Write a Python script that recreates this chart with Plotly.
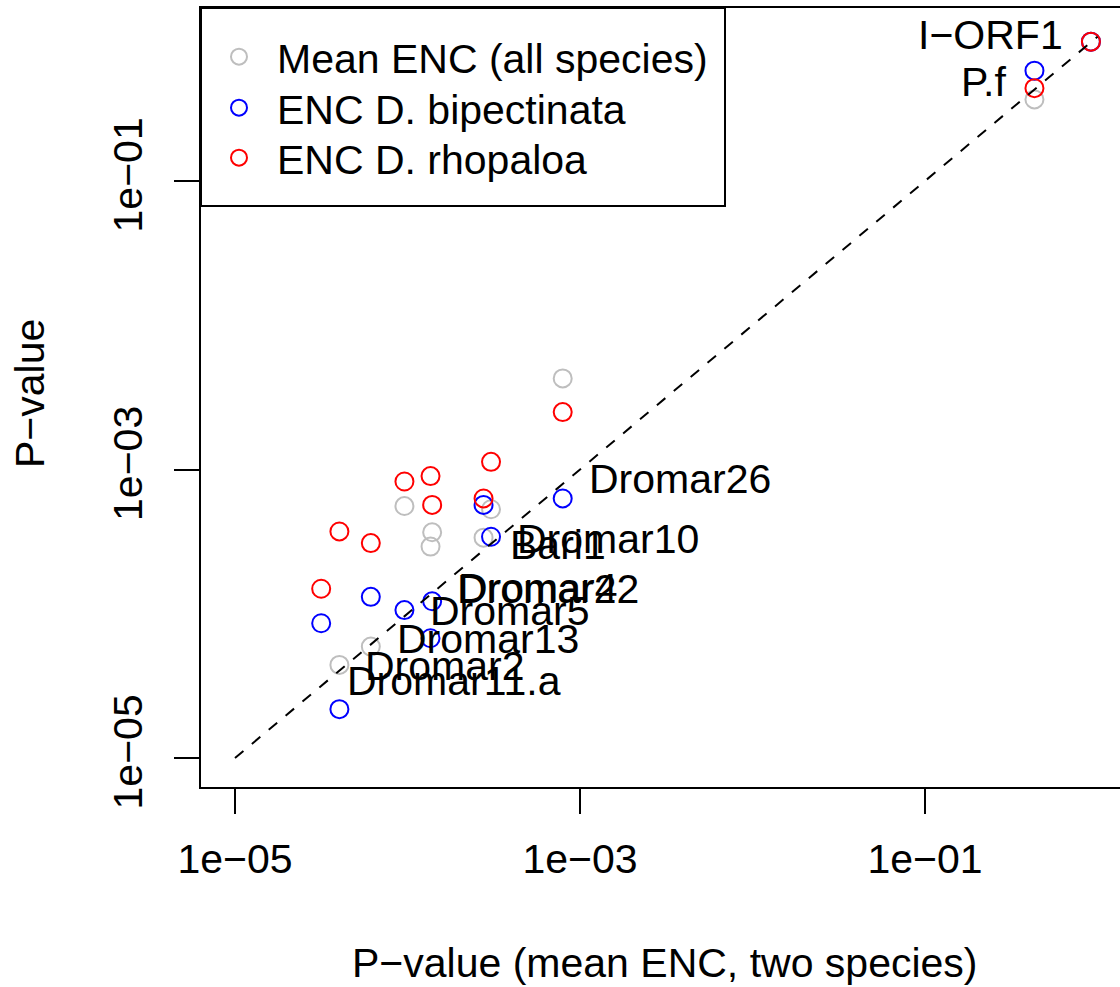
import numpy as np
import plotly.graph_objects as go

# ---- data ----
genes = ["Dromar26", "Dromar10", "Bari1", "Dromar4", "Dromar22", "Dromar5",
         "Dromar13", "Dromar2", "Dromar11.a", "P.f", "I\u2212ORF1"]
label_side = ["right"] * 9 + ["left", "left"]
p_two_species = [7.94e-4, 3.05e-4, 2.76e-4, 1.39e-4, 1.36e-4, 9.6e-5,
                 6.13e-5, 4.03e-5, 3.16e-5, 0.431, 0.916]
p_all_species = [4.28e-3, 5.3e-4, 3.37e-4, 3.67e-4, 2.92e-4, 5.58e-4,
                 5.92e-5, 4.42e-5, None, 0.368, 0.925]
p_bipectinata = [6.3e-4, 3.42e-4, 5.68e-4, 1.22e-4, 6.76e-5, 1.06e-4,
                 1.31e-4, 2.18e-5, 8.59e-5, 0.582, 0.925]
p_rhopaloa = [2.5e-3, 1.13e-3, 6.3e-4, 5.68e-4, 9.0e-4, 8.26e-4,
              3.09e-4, 3.72e-4, 1.49e-4, 0.44, 0.925]
diag = [1e-05, 1.0]
tick_vals = [1e-05, 1e-03, 1e-01]
tick_text = ["1e\u221205", "1e\u221203", "1e\u221201"]
series_names = ["Mean ENC (all species)", "ENC D. bipectinata", "ENC D. rhopaloa"]
series_colors = ["#BEBEBE", "#0000FF", "#FF0000"]

FONT = "Liberation Sans, Arial, Helvetica, sans-serif"
FS = 41

fig = go.Figure()
legend_ids = ["legend", "legend2", "legend3"]
for name, col, yv, lg in zip(series_names, series_colors,
                             [p_all_species, p_bipectinata, p_rhopaloa], legend_ids):
    fig.add_trace(go.Scatter(
        x=p_two_species, y=yv, mode="markers", name=name, legend=lg,
        marker=dict(symbol="circle-open", size=18, color=col,
                    line=dict(width=2, color=col)),
    ))

fig.add_trace(go.Scatter(x=diag, y=diag, mode="lines", showlegend=False,
                         line=dict(color="black", width=2, dash="11px,11px")))

# gene labels, placed next to the diagonal at each gene's x value
for g, side, xv in zip(genes, label_side, p_two_species):
    lx = np.log10(xv)
    fig.add_annotation(x=lx, y=lx, xref="x", yref="y", text=g, showarrow=False,
                       xanchor="left" if side == "right" else "right",
                       yanchor="middle",
                       xshift=24 if side == "right" else -26,
                       yshift=5 if side == "right" else 7,
                       font=dict(family=FONT, size=FS, color="black"))

# axis titles
fig.add_annotation(x=(665 - 201) / 919, y=(787 - 963) / 779, xref="paper", yref="paper",
                   text="P\u2212value (mean ENC, two species)", showarrow=False,
                   xanchor="center", yanchor="middle",
                   font=dict(family=FONT, size=FS, color="black"))
fig.add_annotation(x=(30 - 201) / 919, y=(787 - 394) / 779, xref="paper", yref="paper",
                   text="P\u2212value", showarrow=False, textangle=-90,
                   xanchor="center", yanchor="middle",
                   font=dict(family=FONT, size=FS, color="black"))

# legend frame
fig.add_shape(type="rect", xref="paper", yref="paper",
              x0=0, x1=(725 - 201) / 919, y0=(787 - 206) / 779, y1=1,
              line=dict(color="black", width=2), fillcolor="rgba(0,0,0,0)")

axis_common = dict(type="log", showgrid=False, zeroline=False,
                   showline=True, linecolor="black", linewidth=2,
                   ticks="outside", ticklen=25, tickwidth=2, tickcolor="black",
                   tickvals=tick_vals, ticktext=tick_text,
                   tickfont=dict(family=FONT, size=FS, color="black"))

def legend_at(py):
    return dict(x=0, y=(787 - py) / 779, xanchor="left", yanchor="middle",
                bgcolor="rgba(0,0,0,0)", borderwidth=0, itemwidth=66,
                font=dict(family=FONT, size=FS, color="black"))

fig.update_layout(
    width=1120, height=987,
    margin=dict(l=201, r=0, t=8, b=200),
    paper_bgcolor="white", plot_bgcolor="white",
    xaxis=dict(range=[-5.197, 0.1304], mirror=True, ticklabelstandoff=10,
               **axis_common),
    yaxis=dict(range=[-5.201, 0.1993], mirror=False, tickangle=-90,
               ticklabelstandoff=16, **axis_common),
    legend=legend_at(57),
    legend2=legend_at(108),
    legend3=legend_at(158),
    showlegend=True,
)

fig.write_html("out.html")
